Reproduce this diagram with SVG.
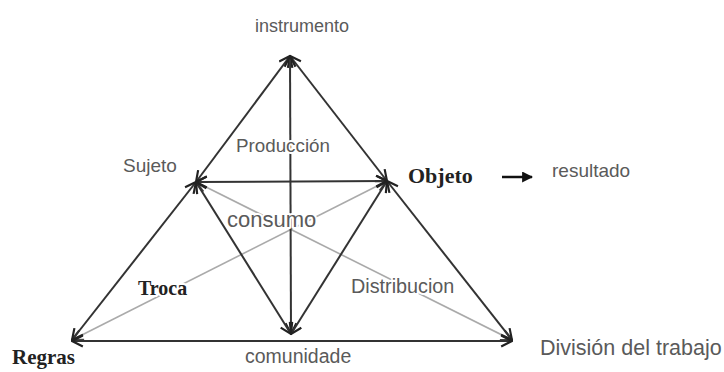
<svg xmlns="http://www.w3.org/2000/svg" width="724" height="372" viewBox="0 0 724 372">
<style>
.ln{stroke:#333;stroke-width:2;fill:none;marker-start:url(#a);marker-end:url(#a)}
.lt{stroke:#aaa;stroke-width:1.6;fill:none;marker-start:url(#b);marker-end:url(#b)}
.s{font-family:"Liberation Sans",Arial,sans-serif;fill:#5a5a5a}
.b{font-family:"Liberation Serif","Times New Roman",serif;font-weight:bold;fill:#222}
.h{paint-order:stroke;stroke:#fff;stroke-width:4;stroke-linejoin:round}
</style>
<defs>
<marker id="a" viewBox="0 0 12 12" refX="11" refY="6" markerWidth="13" markerHeight="13" markerUnits="userSpaceOnUse" orient="auto-start-reverse">
<path d="M1,1 L11,6 L1,11" fill="none" stroke="#222" stroke-width="2"/>
</marker>
<marker id="b" viewBox="0 0 12 12" refX="11" refY="6" markerWidth="13" markerHeight="13" markerUnits="userSpaceOnUse" orient="auto-start-reverse">
<path d="M1,1 L11,6 L1,11" fill="none" stroke="#444" stroke-width="2"/>
</marker>
<marker id="f" viewBox="0 0 10 10" refX="9" refY="5" markerWidth="11" markerHeight="11" markerUnits="userSpaceOnUse" orient="auto">
<path d="M0,0 L10,5 L0,10 Z" fill="#111"/>
</marker>
</defs>
<rect width="724" height="372" fill="#fff"/>
<g id="connectors">
<line class="lt" x1="72" y1="340" x2="387" y2="181"/>
<line class="lt" x1="196" y1="182" x2="512" y2="340"/>
<line class="ln" x1="290" y1="56" x2="196" y2="182"/>
<line class="ln" x1="290" y1="56" x2="387" y2="181"/>
<line class="ln" x1="290" y1="56" x2="291" y2="334"/>
<line class="ln" x1="196" y1="182" x2="387" y2="181"/>
<line class="ln" x1="196" y1="182" x2="72" y2="340"/>
<line class="ln" x1="196" y1="182" x2="291" y2="334"/>
<line class="ln" x1="387" y1="181" x2="291" y2="334"/>
<line class="ln" x1="387" y1="181" x2="512" y2="340"/>
<line class="ln" x1="72" y1="341" x2="512" y2="341"/>
<line x1="502" y1="177" x2="532" y2="177" stroke="#111" stroke-width="2.5" marker-end="url(#f)"/>
</g>
<g id="instrumento"><text class="s" x="302" y="32" font-size="18" text-anchor="middle">instrumento</text></g>
<g id="sujeto"><text class="s" x="123" y="172" font-size="19">Sujeto</text></g>
<g id="objeto"><text class="b" x="408" y="183" font-size="22">Objeto</text></g>
<g id="resultado"><text class="s" x="552" y="177" font-size="19">resultado</text></g>
<g id="regras"><text class="b" x="12" y="364" font-size="21">Regras</text></g>
<g id="comunidade"><text class="s" x="245" y="363" font-size="19.5">comunidade</text></g>
<g id="division"><text class="s" x="540" y="355" font-size="21.5">División del trabajo</text></g>
<g id="produccion"><text class="s h" x="236" y="152" font-size="18.8">Producción</text></g>
<g id="consumo"><text class="s h" x="227" y="227" font-size="22">consumo</text></g>
<g id="troca"><text class="b h" x="138" y="295" font-size="20">Troca</text></g>
<g id="distribucion"><text class="s h" x="351" y="293" font-size="19.8">Distribucion</text></g>
</svg>
